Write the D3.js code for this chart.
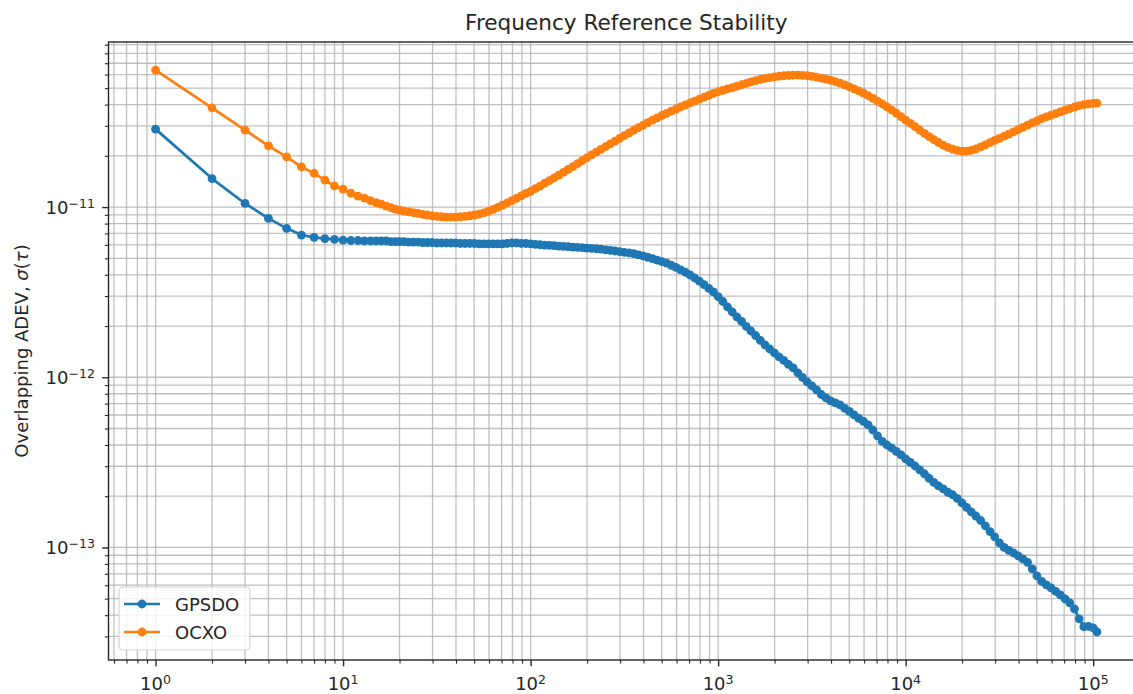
<!DOCTYPE html>
<html>
<head>
<meta charset="utf-8">
<title>Frequency Reference Stability</title>
<script src="https://cdn.jsdelivr.net/npm/d3@7"></script>
<style>
  body { margin: 0; background: #fff; }
  text { font-family: "DejaVu Sans", sans-serif; fill: #262626; }
</style>
</head>
<body>
<script>
// averaging times (s)
var tau = [
  1, 2, 3, 4, 5, 6, 7, 8, 9, 10, 11, 12, 13, 14, 15, 16, 17, 18, 19, 20,
  21.13, 22.39, 23.71, 25.12, 26.61, 28.18, 29.85, 31.62, 33.5, 35.48, 37.58, 39.81, 42.17, 44.67, 47.32, 50.12, 53.09, 56.23, 59.57, 63.1, 66.83, 70.79, 74.99, 79.43, 84.14, 89.13, 94.41,
  100, 105.9, 112.2, 118.9, 125.9, 133.4, 141.3, 149.6, 158.5, 167.9, 177.8, 188.4, 199.5, 211.3, 223.9, 237.1, 251.2, 266.1, 281.8, 298.5,
  316.2, 335, 354.8, 375.8, 398.1, 421.7, 446.7, 473.2, 501.2, 530.9, 562.3, 595.7, 631, 668.3, 707.9, 749.9, 794.3, 841.4, 891.3, 944.1,
  1000, 1059, 1122, 1189, 1259, 1334, 1413, 1496, 1585, 1679, 1778, 1884, 1995, 2113, 2239, 2371, 2512, 2661, 2818, 2985,
  3162, 3350, 3548, 3758, 3981, 4217, 4467, 4732, 5012, 5309, 5623, 5957, 6310, 6683, 7079, 7499, 7943, 8414, 8913, 9441,
  10000, 10590, 11220, 11890, 12590, 13340, 14130, 14960, 15850, 16790, 17780, 18840, 19950, 21130, 22390, 23710, 25120, 26610, 28180, 29850,
  31620, 33500, 35480, 37580, 39810, 42170, 44670, 47320, 50120, 53090, 56230, 59570, 63100, 66830, 70790, 74990, 79430, 84140, 89130, 94410,
  100000, 104700
];

// overlapping ADEV, in units of 1e-11
var gpsdo = [
  2.87, 1.47, 1.05, 0.858, 0.750, 0.685, 0.664, 0.652, 0.646, 0.640, 0.636, 0.636, 0.632, 0.632, 0.632, 0.632, 0.632, 0.627, 0.627, 0.627,
  0.627, 0.623, 0.623, 0.623, 0.619, 0.619, 0.619, 0.615, 0.615, 0.615, 0.615, 0.615, 0.611, 0.611, 0.611, 0.611, 0.607, 0.607, 0.607, 0.607, 0.607, 0.607, 0.611, 0.615, 0.615, 0.611, 0.611,
  0.607, 0.604, 0.601, 0.598, 0.596, 0.593, 0.590, 0.588, 0.585, 0.582, 0.580, 0.577, 0.574, 0.572, 0.569, 0.566, 0.561, 0.557, 0.552, 0.547,
  0.542, 0.538, 0.532, 0.524, 0.516, 0.507, 0.498, 0.488, 0.478, 0.468, 0.455, 0.442, 0.428, 0.414, 0.399, 0.383, 0.367, 0.350, 0.333, 0.317,
  0.298, 0.2787, 0.2587, 0.2418, 0.2260, 0.2127, 0.1987, 0.1870, 0.1759, 0.1645, 0.1548, 0.1466, 0.1389, 0.1316, 0.1255, 0.1189, 0.1134, 0.1060, 0.0997, 0.0938,
  0.0889, 0.0842, 0.0792, 0.0756, 0.0726, 0.0707, 0.0688, 0.0656, 0.0630, 0.0601, 0.0573, 0.0550, 0.0525, 0.0490, 0.0452, 0.0420, 0.0400, 0.0384, 0.0367, 0.0350,
  0.0331, 0.0316, 0.0301, 0.0286, 0.0271, 0.0255, 0.0241, 0.0230, 0.0221, 0.0211, 0.0204, 0.0194, 0.0183, 0.0172, 0.0162, 0.0153, 0.0144, 0.0134, 0.0124, 0.01154,
  0.01064, 0.01001, 0.00962, 0.00930, 0.00893, 0.00857, 0.00818, 0.00749, 0.00681, 0.00632, 0.00603, 0.00579, 0.00552, 0.00527, 0.00499, 0.00473, 0.00436, 0.00381, 0.00342, 0.00344,
  0.00337, 0.00319
];

var ocxo = [
  6.38, 3.83, 2.83, 2.29, 1.97, 1.72, 1.58, 1.44, 1.33, 1.276, 1.208, 1.160, 1.129, 1.092, 1.063, 1.041, 1.014, 0.993, 0.973, 0.960,
  0.947, 0.937, 0.928, 0.918, 0.907, 0.898, 0.888, 0.882, 0.877, 0.873, 0.873, 0.873, 0.877, 0.882, 0.889, 0.898, 0.910, 0.925, 0.945, 0.969, 0.997, 1.027, 1.058, 1.092, 1.126, 1.163, 1.204,
  1.238, 1.282, 1.328, 1.380, 1.431, 1.486, 1.541, 1.601, 1.663, 1.729, 1.798, 1.873, 1.948, 2.025, 2.104, 2.182, 2.266, 2.350, 2.441, 2.535,
  2.630, 2.731, 2.833, 2.930, 3.031, 3.135, 3.243, 3.345, 3.451, 3.555, 3.662, 3.767, 3.876, 3.982, 4.092, 4.198, 4.307, 4.419, 4.534, 4.653,
  4.760, 4.851, 4.944, 5.031, 5.128, 5.232, 5.333, 5.435, 5.539, 5.630, 5.706, 5.768, 5.823, 5.871, 5.911, 5.935, 5.950, 5.959, 5.942, 5.911,
  5.863, 5.800, 5.730, 5.652, 5.562, 5.457, 5.347, 5.219, 5.086, 4.951, 4.812, 4.671, 4.509, 4.348, 4.192, 4.036, 3.876, 3.722, 3.565, 3.400,
  3.242, 3.101, 2.966, 2.833, 2.709, 2.594, 2.488, 2.395, 2.313, 2.242, 2.188, 2.150, 2.132, 2.132, 2.155, 2.199, 2.257, 2.322, 2.391, 2.464,
  2.535, 2.608, 2.683, 2.764, 2.852, 2.942, 3.030, 3.122, 3.212, 3.305, 3.386, 3.464, 3.540, 3.622, 3.707, 3.793, 3.871, 3.940, 3.998, 4.042,
  4.069, 4.080
];

var UNIT = 1e-11;
var seriesNames = ["GPSDO", "OCXO"];
var seriesColors = ["#1f77b4", "#ff7f0e"];
var xMajor = [1, 10, 100, 1000, 10000, 100000];
var yMajor = [1e-13, 1e-12, 1e-11];

(function () {
    var W = 1133, H = 694;
    var pL = 108.5, pR = 1144, pT = 42, pB = 660;

    var series = [gpsdo, ocxo].map(function (vals, i) {
        return {
            name: seriesNames[i],
            color: seriesColors[i],
            values: vals.map(function (v, j) { return { t: tau[j], s: v * UNIT }; })
        };
    });

    // log-axis limits with 5% margin, as matplotlib does
    function logPad(ext) {
        var a = Math.log10(ext[0]), b = Math.log10(ext[1]), p = (b - a) * 0.05;
        return [Math.pow(10, a - p), Math.pow(10, b + p)];
    }
    var allS = [];
    series.forEach(function (s) { s.values.forEach(function (d) { allS.push(d.s); }); });

    var x = d3.scaleLog().domain(logPad(d3.extent(tau))).range([pL, pR]);
    var y = d3.scaleLog().domain(logPad(d3.extent(allS))).range([pB, pT]);

    function minorTicks(scale) {
        var dom = scale.domain(), out = [];
        var e0 = Math.floor(Math.log10(dom[0])), e1 = Math.ceil(Math.log10(dom[1]));
        for (var e = e0; e <= e1; e++) {
            for (var m = 2; m <= 9; m++) {
                var v = m * Math.pow(10, e);
                if (v >= dom[0] && v <= dom[1]) out.push(v);
            }
        }
        return out;
    }
    var xMinor = minorTicks(x), yMinor = minorTicks(y);

    var svg = d3.select("body").append("svg")
        .attr("width", W)
        .attr("height", H);

    svg.append("defs").append("clipPath").attr("id", "plotclip")
        .append("rect")
        .attr("x", pL).attr("y", pT)
        .attr("width", pR - pL).attr("height", pB - pT);

    // grid
    var grid = svg.append("g").attr("class", "grid");
    grid.selectAll(".gx")
        .data(xMajor.concat(xMinor))
        .enter().append("line")
        .attr("x1", function (d) { return x(d); })
        .attr("x2", function (d) { return x(d); })
        .attr("y1", pT).attr("y2", pB)
        .attr("stroke", "#b0b0b0").attr("stroke-width", 1.3).attr("stroke-opacity", 0.8);
    grid.selectAll(".gy")
        .data(yMajor.concat(yMinor))
        .enter().append("line")
        .attr("x1", pL).attr("x2", pR)
        .attr("y1", function (d) { return y(d); })
        .attr("y2", function (d) { return y(d); })
        .attr("stroke", "#b0b0b0").attr("stroke-width", 1.3).attr("stroke-opacity", 0.8);

    // data
    var line = d3.line()
        .x(function (d) { return x(d.t); })
        .y(function (d) { return y(d.s); });

    var plot = svg.append("g").attr("clip-path", "url(#plotclip)");
    series.forEach(function (s) {
        var g = plot.append("g");
        g.append("path")
            .datum(s.values)
            .attr("fill", "none")
            .attr("stroke", s.color)
            .attr("stroke-width", 2.7)
            .attr("stroke-linejoin", "round")
            .attr("d", line);
        g.selectAll("circle")
            .data(s.values)
            .enter().append("circle")
            .attr("cx", function (d) { return x(d.t); })
            .attr("cy", function (d) { return y(d.s); })
            .attr("r", 4.4)
            .attr("fill", s.color);
    });

    // axes
    function cleanAxis(g) {
        g.select(".domain").remove();
        g.selectAll(".tick line").attr("stroke", "#262626");
    }
    svg.append("g")
        .attr("transform", "translate(0," + pB + ")")
        .call(d3.axisBottom(x).tickValues(xMinor).tickSize(3.6).tickFormat(""))
        .call(cleanAxis)
        .selectAll(".tick line").attr("stroke-width", 1.1);
    svg.append("g")
        .attr("transform", "translate(0," + pB + ")")
        .call(d3.axisBottom(x).tickValues(xMajor).tickSize(6.3).tickFormat(""))
        .call(cleanAxis)
        .selectAll(".tick line").attr("stroke-width", 1.4);
    svg.append("g")
        .attr("transform", "translate(" + pL + ",0)")
        .call(d3.axisLeft(y).tickValues(yMinor).tickSize(3.6).tickFormat(""))
        .call(cleanAxis)
        .selectAll(".tick line").attr("stroke-width", 1.1);
    svg.append("g")
        .attr("transform", "translate(" + pL + ",0)")
        .call(d3.axisLeft(y).tickValues(yMajor).tickSize(6.3).tickFormat(""))
        .call(cleanAxis)
        .selectAll(".tick line").attr("stroke-width", 1.4);

    function powLabel(sel, v) {
        var e = Math.round(Math.log10(v));
        sel.append("tspan").text("10");
        sel.append("tspan")
            .attr("dy", "-0.45em")
            .attr("font-size", "12.6px")
            .text(String(e).replace("-", "\u2212"));
    }

    xMajor.forEach(function (v) {
        svg.append("text")
            .attr("x", x(v))
            .attr("y", 690)
            .attr("text-anchor", "middle")
            .attr("font-size", "18px")
            .call(powLabel, v);
    });
    yMajor.forEach(function (v) {
        svg.append("text")
            .attr("x", pL - 13.5)
            .attr("y", y(v) + 6.5)
            .attr("text-anchor", "end")
            .attr("font-size", "18px")
            .call(powLabel, v);
    });

    // spines
    svg.append("rect")
        .attr("x", pL).attr("y", pT)
        .attr("width", pR - pL).attr("height", pB - pT)
        .attr("fill", "none")
        .attr("stroke", "#262626")
        .attr("stroke-width", 1.4);

    // title and axis label
    svg.append("text")
        .attr("x", (pL + pR) / 2)
        .attr("y", 30)
        .attr("text-anchor", "middle")
        .attr("font-size", "21.6px")
        .text("Frequency Reference Stability");

    var yl = svg.append("text")
        .attr("transform", "translate(28," + ((pT + pB) / 2) + ") rotate(-90)")
        .attr("text-anchor", "middle")
        .attr("font-size", "18px");
    yl.append("tspan").text("Overlapping ADEV, ");
    yl.append("tspan").attr("font-style", "italic").text("\u03c3");
    yl.append("tspan").text("(");
    yl.append("tspan").attr("font-style", "italic").text("\u03c4");
    yl.append("tspan").text(")");

    // legend
    var lg = svg.append("g").attr("transform", "translate(119,587)");
    lg.append("rect")
        .attr("width", 131).attr("height", 63)
        .attr("rx", 4).attr("ry", 4)
        .attr("fill", "#fff").attr("fill-opacity", 0.8)
        .attr("stroke", "#d5d5d5").attr("stroke-width", 1.2);
    series.forEach(function (s, i) {
        var row = lg.append("g").attr("transform", "translate(0," + (17 + i * 28) + ")");
        row.append("line")
            .attr("x1", 5).attr("x2", 41)
            .attr("stroke", s.color).attr("stroke-width", 2.7);
        row.append("circle")
            .attr("cx", 23).attr("r", 4.4)
            .attr("fill", s.color);
        row.append("text")
            .attr("x", 56).attr("y", 6.5)
            .attr("font-size", "18px")
            .text(s.name);
    });
})();
</script>
</body>
</html>
